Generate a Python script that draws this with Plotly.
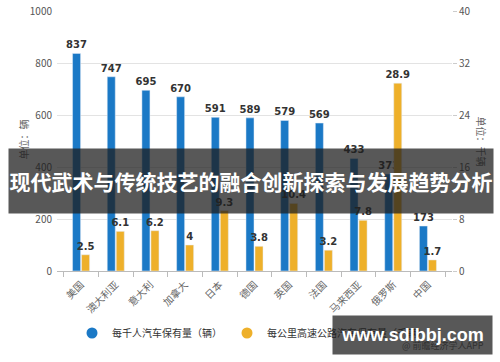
import plotly.graph_objects as go

categories = ["美国", "澳大利亚", "意大利", "加拿大", "日本", "德国", "英国", "法国", "马来西亚", "俄罗斯", "中国"]
cars_per_1000 = [837, 747, 695, 670, 591, 589, 579, 569, 433, 373, 173]
cars_per_km = [2.5, 6.1, 6.2, 4, 9.3, 3.8, 10.4, 3.2, 7.8, 28.9, 1.7]
name_left = "每千人汽车保有量（辆）"
name_right = "每公里高速公路汽车保有量（千辆）"
title_text = "现代武术与传统技艺的融合创新探索与发展趋势分析"

BLUE = "#1b79c6"
YELLOW = "#eeb02a"

W, H = 500, 362
L, R, T, B = 57, 48, 11, 91
pw, ph = W - L - R, H - T - B


def px(x):
    return (x - L) / pw


def py(y):
    return (H - B - y) / ph


FONT = "Noto Sans CJK SC, Noto Sans, sans-serif"
LABEL_FONT = dict(size=10, color="#333", family="DejaVu Sans", weight="bold")

fig = go.Figure()
fig.add_trace(go.Bar(
    x=categories, y=cars_per_1000, name=name_left, marker_color=BLUE,
    text=cars_per_1000, textposition="outside", cliponaxis=False,
    constraintext="none", textfont=LABEL_FONT,
    yaxis="y", offsetgroup="a", showlegend=False,
))
fig.add_trace(go.Bar(
    x=categories, y=cars_per_km, name=name_right, marker_color=YELLOW,
    text=cars_per_km, textposition="outside", cliponaxis=False,
    constraintext="none", textfont=LABEL_FONT,
    yaxis="y2", offsetgroup="b", showlegend=False,
))
# legend entries with circle markers
fig.add_trace(go.Scatter(x=[None], y=[None], mode="markers", name=name_left,
                         marker=dict(symbol="circle", size=11, color=BLUE)))
fig.add_trace(go.Scatter(x=[None], y=[None], mode="markers", name=name_right,
                         marker=dict(symbol="circle", size=11, color=YELLOW)))

fig.update_layout(
    width=W, height=H, autosize=False,
    margin=dict(l=L, r=R, t=T, b=B, autoexpand=False),
    paper_bgcolor="white", plot_bgcolor="white",
    font=dict(family=FONT, color="#555", size=10),
    barmode="group", bargap=0.48, bargroupgap=0.11,
    xaxis=dict(
        type="category", range=[-0.694, 10.694], tickangle=-45,
        tickfont=dict(size=10, color="#666"), automargin=False,
        showline=True, linecolor="#bbb", linewidth=1,
        ticks="outside", ticklen=5, tickcolor="#bbb", tickson="boundaries",
        showgrid=False, ticklabelstandoff=3,
    ),
    yaxis=dict(
        range=[0, 1000], dtick=200, showgrid=True, gridcolor="#e3e3e3",
        zeroline=False, tickfont=dict(size=10, color="#555"), automargin=False,
        ticks="", ticklabelstandoff=4,
    ),
    yaxis2=dict(
        range=[0, 40], dtick=8, overlaying="y", side="right", automargin=False,
        showgrid=False, zeroline=False, tickfont=dict(size=10, color="#555"),
        ticks="outside", ticklen=4, tickcolor="#ccc",
    ),
    legend=dict(
        orientation="h", x=px(252), xanchor="center", y=py(333), yanchor="middle",
        font=dict(size=10, color="#333"), itemwidth=30, bgcolor="rgba(0,0,0,0)",
    ),
)

# axis titles
fig.add_annotation(x=px(13), y=py(140), xref="paper", yref="paper",
                   text="单位：辆", textangle=-90, showarrow=False,
                   font=dict(size=10, color="#666"))
fig.add_annotation(x=px(491), y=py(141), xref="paper", yref="paper",
                   text="单位：千辆", textangle=90, showarrow=False,
                   font=dict(size=10, color="#666"))

# banner
fig.add_annotation(x=px(8), y=py(148), xref="paper", yref="paper",
                   xanchor="left", yanchor="top",
                   text=f"<b>{title_text}</b>", showarrow=False,
                   width=484, height=64, align="center", valign="middle",
                   bgcolor="rgba(30,30,30,0.74)", borderpad=0,
                   font=dict(size=21, color="white", family=FONT))

# source text and watermark box
fig.add_annotation(x=px(486), y=py(354), xref="paper", yref="paper", xanchor="right",
                   text="@ 前瞻经济学人APP", showarrow=False,
                   font=dict(size=9, color="#666"))
fig.add_annotation(x=px(332), y=py(315), xref="paper", yref="paper",
                   xanchor="left", yanchor="top",
                   text="<b>www.sdlbbj.com</b>", showarrow=False,
                   width=159, height=38, align="center", valign="middle",
                   bgcolor="rgba(30,30,30,0.74)", borderpad=0,
                   font=dict(size=18, color="white", family="Liberation Sans, Arial, sans-serif"))

fig.write_html("out.html", config={"displayModeBar": False},
               post_script="document.body.style.margin='0px';document.body.style.padding='0px';")
